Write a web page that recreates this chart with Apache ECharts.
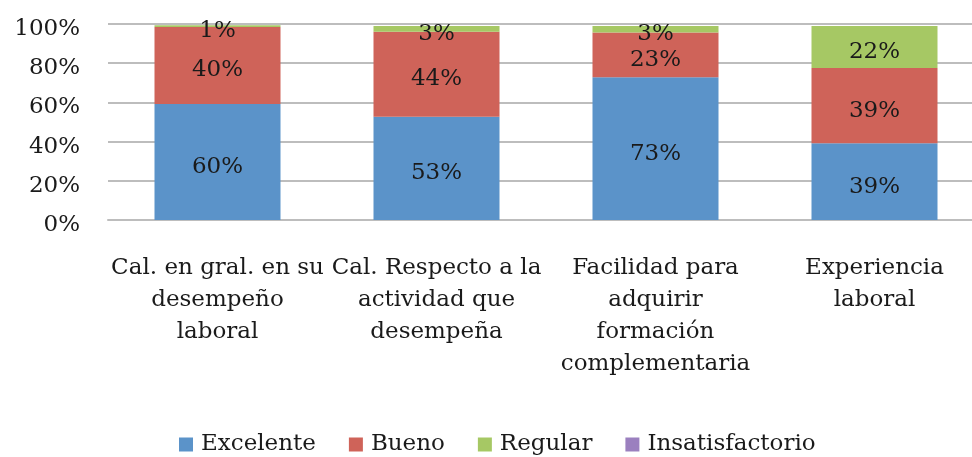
<!DOCTYPE html>
<html lang="es">

<head>
    <meta charset="UTF-8">
    <title>Evaluación</title>
    <script src="https://cdn.jsdelivr.net/npm/echarts@6/dist/echarts.min.js"></script>
    <style>
        html, body { margin: 0; padding: 0; background: #fff; }
        #chart { width: 972px; height: 457px; }
    </style>
</head>

<body>
    <div id="chart"></div>
    <script>
        var categories = [
            'Cal. en gral. en su\ndesempeño\nlaboral',
            'Cal. Respecto a la\nactividad que\ndesempeña',
            'Facilidad para\nadquirir\nformación\ncomplementaria',
            'Experiencia\nlaboral'
        ];
        var excelente = [59.2, 52.7, 72.8, 39.1];
        var bueno = [39.3, 43.4, 22.8, 38.4];
        var regular = [0.9, 2.9, 3.4, 21.5];
        var insatisfactorio = [0, 0, 0, 0];

        // texto de las etiquetas tal como aparecen en la grafica
        var excelenteText = ['60%', '53%', '73%', '39%'];
        var buenoText = ['40%', '44%', '23%', '39%'];
        var regularText = ['1%', '3%', '3%', '22%'];

        var font = 'DejaVu Serif';

        function seriesDef(name, data, color, texts) {
            return {
                name: name,
                type: 'bar',
                stack: 'total',
                barWidth: 126,
                data: data,
                itemStyle: { color: color },
                label: {
                    show: !!texts,
                    position: 'inside',
                    fontFamily: font,
                    fontSize: 23,
                    color: '#1a1a1a',
                    formatter: function (p) {
                        return texts ? texts[p.dataIndex] : '';
                    }
                },
                labelLayout: { hideOverlap: false, dy: 5 }
            };
        }

        var chart = echarts.init(document.getElementById('chart'));
        chart.setOption({
            animation: false,
            textStyle: { fontFamily: font },
            grid: { left: 108, width: 876, top: 24, height: 196, outerBoundsMode: 'none' },
            legend: {
                left: 174,
                top: 428,
                itemWidth: 14,
                itemHeight: 14,
                itemGap: 33,
                icon: 'rect',
                textStyle: { fontFamily: font, fontSize: 23, color: '#1a1a1a', padding: [4, 0, 0, 3] },
                data: ['Excelente', 'Bueno', 'Regular', 'Insatisfactorio']
            },
            xAxis: {
                type: 'category',
                data: categories,
                axisLine: { lineStyle: { color: '#bdbdbd', width: 2 } },
                axisTick: { show: false },
                axisLabel: {
                    interval: 0,
                    margin: 32,
                    fontFamily: font,
                    fontSize: 23,
                    lineHeight: 32,
                    color: '#1a1a1a'
                }
            },
            yAxis: {
                type: 'value',
                min: 0,
                max: 100,
                interval: 20,
                axisLabel: {
                    formatter: '{v|{value}%}',
                    margin: 28,
                    rich: {
                        v: { fontFamily: font, fontSize: 23, color: '#1a1a1a', padding: [10, 0, 0, 0] }
                    }
                },
                splitLine: { lineStyle: { color: '#bdbdbd', width: 2 } }
            },
            series: [
                seriesDef('Excelente', excelente, '#5b93c9', excelenteText),
                seriesDef('Bueno', bueno, '#cf6359', buenoText),
                seriesDef('Regular', regular, '#a6c864', regularText),
                seriesDef('Insatisfactorio', insatisfactorio, '#9b80bf', null)
            ]
        });
    </script>
</body>

</html>
